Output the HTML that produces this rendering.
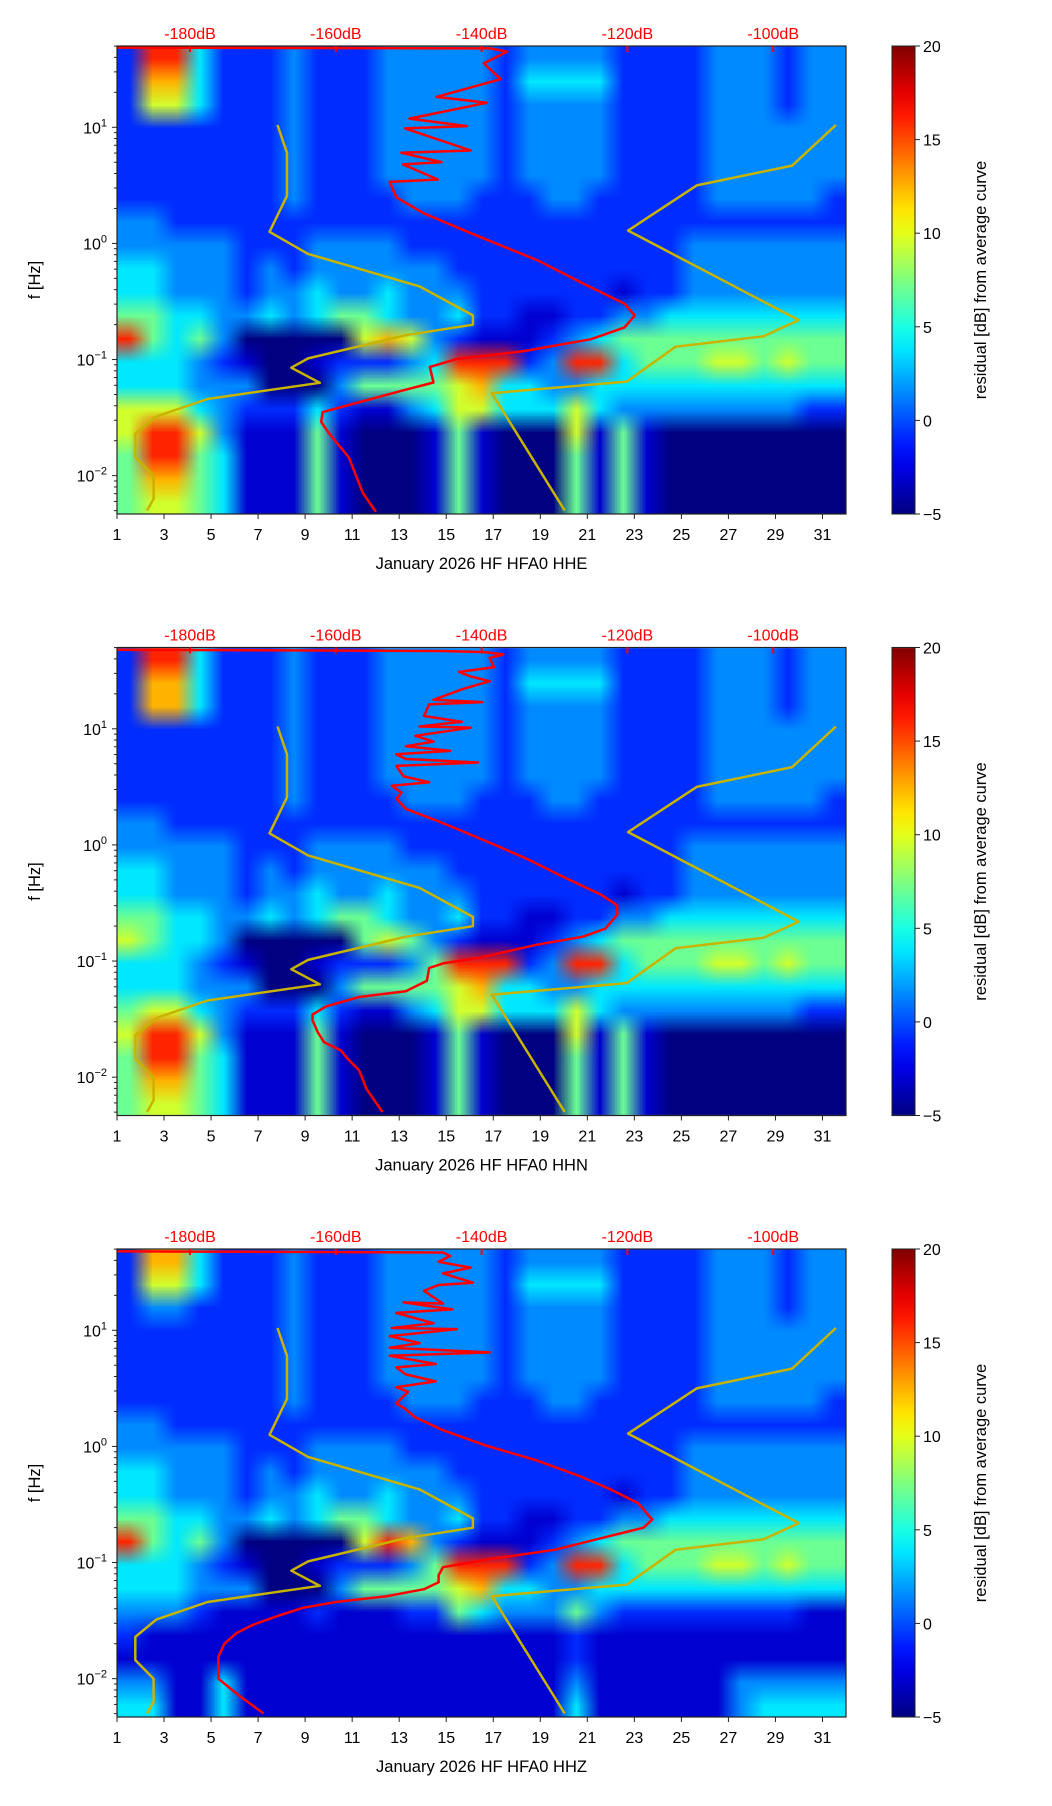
<!DOCTYPE html>
<html><head><meta charset="utf-8"><style>
html,body{margin:0;padding:0;background:#fff;}
#wrap{position:relative;width:1052px;height:1806px;overflow:hidden;font-family:"Liberation Sans",sans-serif;}
canvas{position:absolute;left:0;top:0;}
svg{position:absolute;left:0;top:0;}
</style></head><body>
<div id="wrap">
<canvas id="cv" width="1052" height="1806"></canvas>
<svg id="sv" width="1052" height="1806" xmlns="http://www.w3.org/2000/svg"></svg>
</div>
<script>
// ---- data ----
const channels = ["HHE","HHN","HHZ"];
const dayTicks = [1,3,5,7,9,11,13,15,17,19,21,23,25,27,29,31];
const dbTicks = [-180,-160,-140,-120,-100];
const cbTicks = [-5,0,5,10,15,20];
const decadeTicks = [1,0,-1,-2];
// residual level (dB) for each grid digit 0..9
const levelValues = [-5,-3,-0.8,1.5,3.8,7,9.5,12.5,16,18];
// residual grid: rows from 50 Hz (top) to 0.005 Hz (bottom), 0.2 decade each; columns = days 1..31
const gridHHE = [
"2884222322233333233332222333233","2774222322233333244442222333233","2664222322233333233332222333233",
"2222222322233333233332222333333","2222222322233333233332222333333","2222222322233333233332222333333",
"2222222322223332223322222333332","3322222222222222222222222222222","3333322233332222222222223333333",
"4433323233333322222222223333333","4433323343343332222221223333333","5544334345543342211223344444444",
"8545300000676321112345555555555","4443210012223488823884555665655","4443330003555567443344444444444",
"6664322242113466444643333333322","6886311151000151000615100000000","5885411151000151000515100000000",
"5775411151000151000515100000000","5665411151000151000515100000000"];
const gridHHN = [
"2884222322233333233332222333233","2774222322233333244442222333233","2774222322233333233332222333233",
"2222222322233333233332222333333","2222222322233333233332222333333","2222222322233333233332222333333",
"2222222322223332223322222333332","3322222222222222222222222222222","3333322233332222222222223333333",
"4433323233333322222222223333333","4433323343343332222221223333333","5544334345543342211223344444444",
"6544300000565321112345555555555","4443210012223588823884555665655","4443330003555567443344444444444",
"5664322242113466444643333333322","6886311151000151000615100000000","5885411151000151000515100000000",
"5775411151000151000515100000000","5665411151000151000515100000000"];
const gridHHZ = [
"2774222322233333233332222333233","2664222322233333244442222333233","2332222322233333233332222333233",
"2222222322233333233332222333333","2222222322233333233332222333333","2222222322233333233332222333333",
"2222222322223332223322222333332","3322222222222222222222222222222","3333322233332222222222223333333",
"4433323233333322222222223333333","4433323343343332222221223333333","5544334345543342211223344444444",
"8545300000687321112345555555555","4443210012223588823884555665655","4443330003555567443344444444444",
"3332111121112254333532222222211","2111111111111111111211111111111","1111111111111111111211111111111",
"3311411111111111111311111133333","4411411111111111111411111134444"];
// model curves (same for all channels): dB vs log10 f
const nlnmDb = [-168.0,-166.7,-166.7,-169.1,-163.8,-148.5,-141.2,-141.2,-150.4,-163.8,-166.1,-162.2,-177.6,-184.6,-187.5,-187.5,-185.0,-185.0,-185.9];
const nlnmLogF = [1.02,0.78,0.41,0.10,-0.09,-0.37,-0.62,-0.70,-0.79,-0.99,-1.07,-1.20,-1.34,-1.49,-1.64,-1.84,-2.00,-2.20,-2.30];
const nhnmDb = [-91.4,-97.4,-110.5,-119.9,-96.5,-101.3,-113.4,-120.1,-138.6,-128.6];
const nhnmLogF = [1.02,0.67,0.50,0.11,-0.66,-0.80,-0.89,-1.19,-1.29,-2.30];
// average PSD per channel
const avgDbHHE = [-190,-138.8,-136.5,-139.7,-137.4,-146.2,-139.3,-149.9,-142.0,-150.5,-141.5,-151.0,-145.5,-150.8,-146.0,-152.6,-151.7,-148.0,-141.6,-132.3,-125.9,-120.4,-119.0,-120.4,-125.0,-134.2,-143.4,-147.1,-146.6,-150.8,-161.8,-162.0,-160.9,-158.2,-156.3,-154.5];
const avgLogFHHE = [1.686,1.679,1.652,1.550,1.414,1.262,1.211,1.075,1.01,0.99,0.80,0.78,0.70,0.68,0.55,0.53,0.397,0.261,0.091,-0.146,-0.350,-0.519,-0.621,-0.723,-0.825,-0.927,-0.995,-1.063,-1.198,-1.266,-1.453,-1.537,-1.639,-1.843,-2.148,-2.311];
const avgDbHHN = [-190.0,-145.3,-139.5,-137.0,-138.9,-138.3,-143.1,-141.5,-138.9,-142.7,-146.6,-139.9,-147.2,-147.9,-142.7,-148.5,-141.5,-149.1,-146.6,-150.4,-144.3,-151.7,-150.4,-140.5,-151.7,-150.7,-147.2,-152.3,-151.0,-151.7,-150.4,-146.6,-142.7,-138.9,-133.8,-129.3,-123.6,-121.4,-121.4,-123.0,-126.1,-132.5,-140.2,-145.3,-147.2,-147.5,-150.4,-156.8,-161.3,-163.2,-163.2,-162.5,-161.6,-159.3,-158.4,-156.8,-155.8,-153.6];
const avgLogFHHN = [1.68,1.67,1.66,1.64,1.61,1.53,1.49,1.45,1.41,1.34,1.25,1.23,1.21,1.11,1.06,1.02,1.01,0.94,0.89,0.85,0.81,0.78,0.74,0.71,0.68,0.59,0.54,0.51,0.45,0.40,0.31,0.22,0.12,0.02,-0.12,-0.26,-0.43,-0.52,-0.60,-0.72,-0.79,-0.86,-0.97,-1.02,-1.06,-1.17,-1.26,-1.31,-1.39,-1.46,-1.51,-1.61,-1.70,-1.77,-1.84,-1.94,-2.10,-2.30];
const avgDbHHZ = [-190.0,-145.3,-144.3,-145.9,-141.5,-145.3,-141.2,-145.9,-147.9,-145.3,-150.7,-144.0,-151.7,-146.6,-152.3,-143.4,-152.6,-148.5,-152.6,-138.9,-152.6,-146.3,-151.7,-150.4,-146.3,-151.7,-150.1,-151.7,-150.4,-149.1,-145.3,-139.5,-132.5,-126.8,-122.3,-118.5,-116.6,-117.8,-122.3,-130.0,-138.9,-145.3,-145.9,-145.9,-147.9,-153.0,-160.0,-164.5,-168.0,-171.5,-173.7,-175.3,-176.1,-176.1,-173.4,-169.9];
const avgLogFHHZ = [1.68,1.67,1.64,1.59,1.54,1.49,1.41,1.39,1.34,1.23,1.24,1.18,1.15,1.06,1.02,1.01,0.95,0.89,0.85,0.81,0.78,0.71,0.68,0.62,0.56,0.51,0.47,0.37,0.32,0.25,0.14,0.01,-0.12,-0.25,-0.37,-0.49,-0.63,-0.70,-0.77,-0.89,-0.97,-1.04,-1.11,-1.17,-1.23,-1.29,-1.34,-1.39,-1.46,-1.54,-1.61,-1.70,-1.81,-2.00,-2.14,-2.30];

// ---- layout ----
const X0=117, X1=846, H=468, TOPS=[46,647.5,1249];
const LOGMAX=1.7, LOGMIN=-2.3301, DAY0=1, DAY1=32;
const CBX=892, CBW=23;
const grids=[gridHHE,gridHHN,gridHHZ];
const avgDb=[avgDbHHE,avgDbHHN,avgDbHHZ], avgLF=[avgLogFHHE,avgLogFHHN,avgLogFHHZ];
function xDay(d){return X0+(d-DAY0)/(DAY1-DAY0)*(X1-X0);}
function xDb(db){return 190+(db+180)*7.29;}
function yF(top,lf){return top+(LOGMAX-lf)/(LOGMAX-LOGMIN)*H;}
function jet(v){const t=Math.max(0,Math.min(1,(v+5)/25));const c=x=>Math.round(255*Math.max(0,Math.min(1,x)));
 return [c(1.5-Math.abs(4*t-3)),c(1.5-Math.abs(4*t-2)),c(1.5-Math.abs(4*t-1))];}
const ctx=document.getElementById('cv').getContext('2d');
const svg=document.getElementById('sv');
const NS="http://www.w3.org/2000/svg";
function mk(tag,attrs,parent){const e=document.createElementNS(NS,tag);for(const k in attrs)e.setAttribute(k,attrs[k]);(parent||svg).appendChild(e);return e;}

grids.forEach((g,p)=>{
 const top=TOPS[p];
 const rows=g.length, cols=31;
 const off=document.createElement('canvas');off.width=cols;off.height=rows;
 const oc=off.getContext('2d');const img=oc.createImageData(cols,rows);
 for(let r=0;r<rows;r++)for(let c=0;c<cols;c++){
  const ch=g[r][c]||'2';const v=levelValues[parseInt(ch,10)];const [R,G,B]=jet(v);
  const i=(r*cols+c)*4;img.data[i]=R;img.data[i+1]=G;img.data[i+2]=B;img.data[i+3]=255;}
 oc.putImageData(img,0,0);
 ctx.save();ctx.beginPath();ctx.rect(X0,top,X1-X0,H);ctx.clip();
 ctx.imageSmoothingEnabled=true;
 ctx.drawImage(off,X0,top,X1-X0,H);
 ctx.restore();
 // colorbar
 const grd=ctx.createLinearGradient(0,top+H,0,top);
 for(let k=0;k<=20;k++){const [R,G,B]=jet(-5+k*25/20);grd.addColorStop(k/20,`rgb(${R},${G},${B})`);}
 ctx.fillStyle=grd;ctx.fillRect(CBX,top,CBW,H);

 const grp=mk('g',{});
 
 
 const cp=mk('clipPath',{id:'clip'+p},grp);mk('rect',{x:X0,y:top,width:X1-X0,height:H},cp);
 const lines=mk('g',{'clip-path':'url(#clip'+p+')'},grp);
 
 
 const poly=(dbs,lfs)=>dbs.map((d,i)=>xDb(d).toFixed(1)+','+yF(top,lfs[i]).toFixed(1)).join(' ');
 const l1=mk('polyline',{points:poly(nlnmDb,nlnmLogF),fill:'none',stroke:'#c8b400',"stroke-width":2.5,"stroke-linejoin":"round"},lines);
 
 
 const l2=mk('polyline',{points:poly(nhnmDb,nhnmLogF),fill:'none',stroke:'#c8b400',"stroke-width":2.5,"stroke-linejoin":"round"},lines);
 
 
 const l3=mk('polyline',{points:poly(avgDb[p],avgLF[p]),fill:'none',stroke:'#ff0000',"stroke-width":2.5,"stroke-linejoin":"round"},lines);
 
 
 const fr=mk('rect',{x:X0,y:top,width:X1-X0,height:H,fill:'none',stroke:'#222',"stroke-width":1.2},grp);
 
 
 const cbf=mk('rect',{x:CBX,y:top,width:CBW,height:H,fill:'none',stroke:'#222',"stroke-width":1},grp);
 
 
 const bot=top+H;
 for(let d=1;d<=31;d+=2){const x=xDay(d);mk('line',{x1:x,y1:bot,x2:x,y2:bot+5,stroke:'#222'},grp);}
 dayTicks.forEach(d=>{const t=mk('text',{x:xDay(d),y:bot+26,"font-size":16,"text-anchor":"middle",fill:'#000'},grp);t.textContent=d;
  
  });
 const xl=mk('text',{x:(X0+X1)/2,y:bot+55,"font-size":16.5,"text-anchor":"middle",fill:'#000'},grp);
 xl.textContent='January 2026 HF HFA0  '+channels[p];
 
 
 for(let dec=-3;dec<=1;dec++){for(let m=1;m<=9;m++){const lf=dec+Math.log10(m);if(lf<LOGMIN||lf>LOGMAX)continue;
  const y=yF(top,lf);mk('line',{x1:X0-(m==1?5:3),y1:y,x2:X0,y2:y,stroke:'#222'},grp);}}
 decadeTicks.forEach(dec=>{const y=yF(top,dec);const t=mk('text',{x:X0-10,y:y+6,"font-size":16,"text-anchor":"end",fill:'#000'},grp);
  const a=mk('tspan',{},t);a.textContent='10';const b=mk('tspan',{dy:-7,"font-size":11},t);b.textContent=dec<0?'\u2212'+(-dec):dec;
  
  });
 const yl=mk('text',{x:0,y:0,"font-size":16.5,"text-anchor":"middle",fill:'#000',transform:`translate(40,${top+H/2}) rotate(-90)`},grp);
 yl.textContent='f [Hz]';
 
 
 dbTicks.forEach(db=>{const x=xDb(db);mk('line',{x1:x,y1:top,x2:x,y2:top+6,stroke:'#ff0000',"stroke-width":2},grp);
  const t=mk('text',{x:x,y:top-7,"font-size":16,"text-anchor":"middle",fill:'#ff0000'},grp);t.textContent=db+'dB';
  
  });
 cbTicks.forEach(v=>{const y=bot-(v+5)/25*H;mk('line',{x1:CBX+CBW,y1:y,x2:CBX+CBW+5,y2:y,stroke:'#222'},grp);
  const t=mk('text',{x:CBX+CBW+8,y:y+6,"font-size":16,fill:'#000'},grp);t.textContent=v<0?'\u2212'+(-v):v;
  
  });
 const cl=mk('text',{x:0,y:0,"font-size":16.5,"text-anchor":"middle",fill:'#000',transform:`translate(986,${top+H/2}) rotate(-90)`},grp);
 cl.textContent='residual [dB] from average curve';
 
 
});
</script>
</body></html>
